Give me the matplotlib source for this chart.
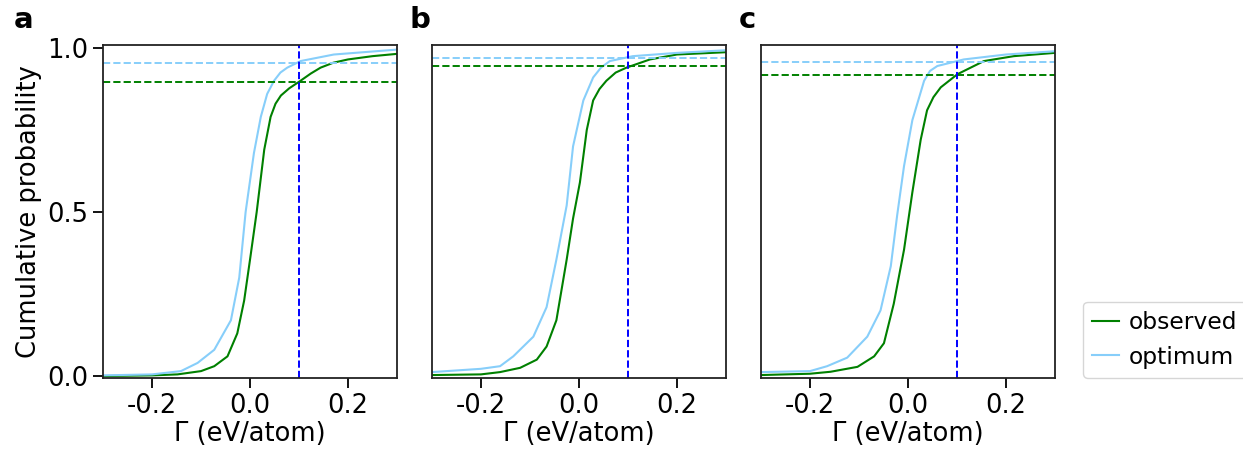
import matplotlib
matplotlib.use("Agg")
import matplotlib.pyplot as plt
import numpy as np

# panel a
a_obs_x = [-0.3, -0.2, -0.148, -0.1, -0.073, -0.046, -0.026, -0.012, 0.0, 0.0136, 0.029, 0.042, 0.052, 0.063, 0.08, 0.103, 0.124, 0.144, 0.17, 0.2, 0.25, 0.3]
a_obs_y = [0.0, 0.002, 0.005, 0.015, 0.03, 0.06, 0.13, 0.23, 0.355, 0.5, 0.69, 0.79, 0.83, 0.855, 0.877, 0.90, 0.922, 0.94, 0.955, 0.965, 0.975, 0.982]
a_opt_x = [-0.3, -0.2, -0.141, -0.107, -0.073, -0.039, -0.022, -0.009, 0.008, 0.022, 0.035, 0.049, 0.062, 0.076, 0.103, 0.171, 0.3]
a_opt_y = [0.002, 0.005, 0.015, 0.04, 0.08, 0.17, 0.30, 0.50, 0.68, 0.79, 0.86, 0.90, 0.925, 0.94, 0.96, 0.98, 0.995]

# panel b
b_obs_x = [-0.3, -0.2, -0.161, -0.12, -0.086, -0.066, -0.046, -0.025, -0.012, 0.002, 0.016, 0.029, 0.042, 0.056, 0.075, 0.097, 0.145, 0.2, 0.3]
b_obs_y = [0.003, 0.005, 0.012, 0.025, 0.05, 0.09, 0.17, 0.355, 0.48, 0.59, 0.75, 0.84, 0.875, 0.90, 0.925, 0.94, 0.965, 0.98, 0.987]
b_opt_x = [-0.3, -0.2, -0.161, -0.134, -0.093, -0.066, -0.046, -0.025, -0.012, 0.009, 0.029, 0.045, 0.063, 0.11, 0.2, 0.3]
b_opt_y = [0.012, 0.022, 0.03, 0.06, 0.12, 0.21, 0.355, 0.52, 0.70, 0.84, 0.91, 0.94, 0.96, 0.975, 0.985, 0.993]

# panel c
c_obs_x = [-0.3, -0.2, -0.158, -0.103, -0.069, -0.049, -0.029, -0.008, 0.009, 0.026, 0.039, 0.052, 0.067, 0.101, 0.155, 0.216, 0.3]
c_obs_y = [0.003, 0.007, 0.013, 0.028, 0.06, 0.10, 0.22, 0.385, 0.56, 0.72, 0.81, 0.85, 0.88, 0.92, 0.96, 0.975, 0.985]
c_opt_x = [-0.3, -0.2, -0.165, -0.124, -0.083, -0.056, -0.035, -0.022, -0.008, 0.009, 0.033, 0.045, 0.06, 0.114, 0.2, 0.3]
c_opt_y = [0.012, 0.015, 0.03, 0.056, 0.12, 0.20, 0.335, 0.49, 0.64, 0.78, 0.90, 0.93, 0.945, 0.965, 0.98, 0.99]

# probability at threshold (dashed lines)
thresh = 0.1
obs_at_thresh = [0.895, 0.945, 0.918]
opt_at_thresh = [0.955, 0.97, 0.957]

panel_labels = ["a", "b", "c"]
panels = [
    (a_obs_x, a_obs_y, a_opt_x, a_opt_y),
    (b_obs_x, b_obs_y, b_opt_x, b_opt_y),
    (c_obs_x, c_obs_y, c_opt_x, c_opt_y),
]

fig = plt.figure(figsize=(12.43, 4.5), dpi=100)
lefts = [0.0829, 0.3475, 0.6122]
for i, (ox, oy, px, py) in enumerate(panels):
    ax = fig.add_axes([lefts[i], 0.16, 0.2365, 0.74])
    l1, = ax.plot(ox, oy, color="green", lw=1.5, label="observed")
    l2, = ax.plot(px, py, color="lightskyblue", lw=1.5, label="optimum")
    ax.axhline(obs_at_thresh[i], color="green", ls="--", lw=1.4)
    ax.axhline(opt_at_thresh[i], color="lightskyblue", ls="--", lw=1.4)
    ax.axvline(thresh, color="blue", ls="--", lw=1.4)
    ax.set_xlim(-0.3, 0.3)
    ax.set_ylim(-0.006, 1.009)
    ax.set_xticks([-0.2, 0.0, 0.2])
    ax.set_xticklabels(["-0.2", "0.0", "0.2"])
    ax.tick_params(labelsize=18.5, length=7, width=1.3)
    for s in ax.spines.values():
        s.set_linewidth(1.3)
        s.set_color("#222222")
    ax.set_xlabel("Γ (eV/atom)", fontsize=18.5, labelpad=2)
    if i == 0:
        ax.set_yticks([0.0, 0.5, 1.0])
        ax.set_ylabel("Cumulative probability", fontsize=18.5, labelpad=4)
    else:
        ax.set_yticks([])
    fig.text(lefts[i] - (0.072 if i == 0 else 0.018), 0.925, panel_labels[i],
             fontsize=21, fontweight="bold", va="bottom")

fig.legend(handles=[l1, l2], loc="lower left", bbox_to_anchor=(0.8713, 0.16),
           fontsize=16.8, handlelength=1.15, handletextpad=0.4, borderpad=0.4,
           frameon=True, borderaxespad=0)

fig.savefig("out.png", dpi=100)
